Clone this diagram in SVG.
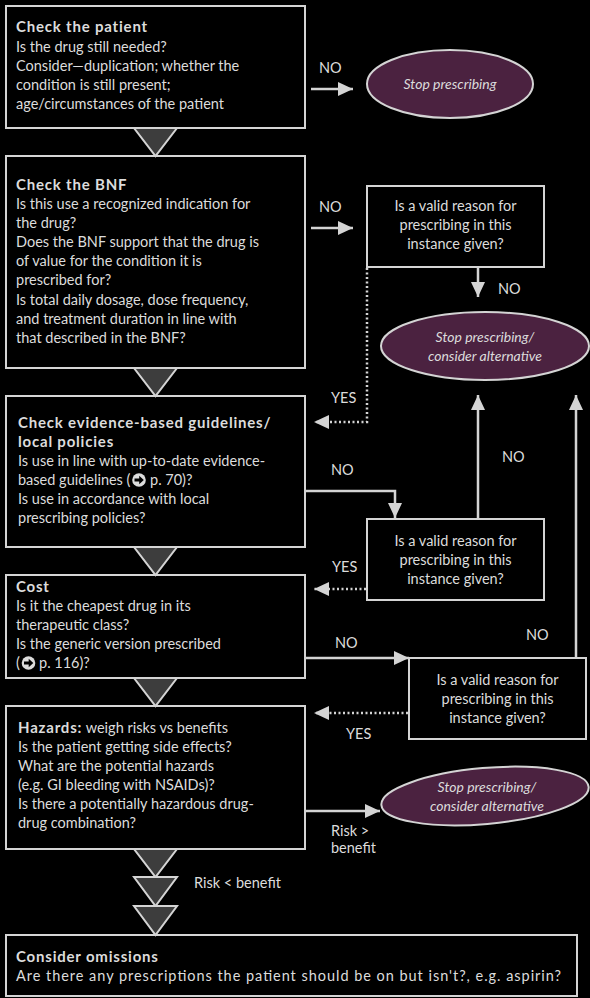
<svg xmlns="http://www.w3.org/2000/svg" width="590" height="998" viewBox="0 0 590 998">
<defs>
<style>
text{font-family:Lato,"Open Sans","DejaVu Sans",sans-serif;font-size:14.5px;fill:#dcdcdc}
.b{font-weight:bold;font-size:15px;letter-spacing:0.8px}
.c{text-anchor:middle}
.i{font-style:italic;font-size:14px;text-anchor:middle}
.box{fill:#000;stroke:#d4d4d4;stroke-width:2}
.tri{fill:#3d3d3d;stroke:#d4d4d4;stroke-width:2;stroke-linejoin:miter}
.ell{fill:#4b2240;stroke:#d4d4d4;stroke-width:2}
.ln{fill:none;stroke:#d4d4d4;stroke-width:2.5}
.dot{fill:none;stroke:#d4d4d4;stroke-width:2.5;stroke-dasharray:2 2.5}
.ico{fill:#dcdcdc}
.icoa{fill:#000}
</style>
<marker id="ah" markerUnits="userSpaceOnUse" markerWidth="16" markerHeight="14" refX="15" refY="7" orient="auto">
<path d="M0,0 L15,7 L0,14 z" fill="#d4d4d4"/>
</marker>
<g id="icon">
<circle class="ico" cx="0" cy="0" r="6.8"/>
<polygon class="icoa" points="-4.5,-1.6 0.2,-1.6 0.2,-4.3 4.8,0 0.2,4.3 0.2,1.6 -4.5,1.6"/>
</g>
</defs>
<rect width="590" height="998" fill="#000"/>

<g id="n1">
<rect class="box" x="6" y="6" width="299" height="122"/>
<text class="b" x="16" y="32">Check the patient</text>
<text x="16" y="52">Is the drug still needed?</text>
<text x="16" y="71">Consider—duplication; whether the</text>
<text x="16" y="90">condition is still present;</text>
<text x="16" y="109">age/circumstances of the patient</text>
</g>

<g id="n2">
<rect class="box" x="6" y="156" width="299" height="212"/>
<text class="b" x="16" y="190">Check the BNF</text>
<text x="16" y="209">Is this use a recognized indication for</text>
<text x="16" y="228">the drug?</text>
<text x="16" y="247">Does the BNF support that the drug is</text>
<text x="16" y="266">of value for the condition it is</text>
<text x="16" y="285">prescribed for?</text>
<text x="16" y="305">Is total daily dosage, dose frequency,</text>
<text x="16" y="324">and treatment duration in line with</text>
<text x="16" y="343">that described in the BNF?</text>
</g>

<g id="n3">
<rect class="box" x="6" y="396" width="299" height="151"/>
<text class="b" x="18" y="428">Check evidence-based guidelines/</text>
<text class="b" x="18" y="447">local policies</text>
<text x="18" y="466">Is use in line with up-to-date evidence-</text>
<text x="18" y="485">based guidelines (</text>
<use href="#icon" x="139" y="480"/>
<text x="150" y="485">p. 70)?</text>
<text x="18" y="504">Is use in accordance with local</text>
<text x="18" y="523">prescribing policies?</text>
</g>

<g id="n4">
<rect class="box" x="6" y="575" width="299" height="103"/>
<text class="b" x="16" y="592">Cost</text>
<text x="16" y="611">Is it the cheapest drug in its</text>
<text x="16" y="630">therapeutic class?</text>
<text x="16" y="649">Is the generic version prescribed</text>
<text x="16" y="668">(</text>
<use href="#icon" x="28.5" y="663"/>
<text x="39" y="668">p. 116)?</text>
</g>

<g id="n5">
<rect class="box" x="6" y="706" width="299" height="143"/>
<text x="18" y="733"><tspan class="b">Hazards:</tspan> weigh risks vs benefits</text>
<text x="18" y="752">Is the patient getting side effects?</text>
<text x="18" y="771">What are the potential hazards</text>
<text x="18" y="790">(e.g. GI bleeding with NSAIDs)?</text>
<text x="18" y="809">Is there a potentially hazardous drug-</text>
<text x="18" y="828">drug combination?</text>
</g>

<g id="n6">
<rect class="box" x="6" y="935" width="571" height="61"/>
<text class="b" x="16" y="962">Consider omissions</text>
<text x="16" y="981" textLength="545" lengthAdjust="spacing">Are there any prescriptions the patient should be on but isn't?, e.g. aspirin?</text>
</g>

<g id="t1"><polygon class="tri" points="134,128 177,128 155.5,156"/></g>
<g id="t2"><polygon class="tri" points="134,368 177,368 155.5,396"/></g>
<g id="t3"><polygon class="tri" points="134,547 177,547 155.5,575"/></g>
<g id="t4"><polygon class="tri" points="134,678 177,678 155.5,706"/></g>
<g id="t5"><polygon class="tri" points="134,849 177,849 155.5,877"/></g>
<g id="t6"><polygon class="tri" points="134,877 177,877 155.5,906"/></g>
<g id="t7"><polygon class="tri" points="134,906 177,906 155.5,935"/></g>

<g id="e1">
<ellipse class="ell" cx="450" cy="84" rx="83" ry="34"/>
<text class="i" x="450" y="89">Stop prescribing</text>
</g>

<g id="d1">
<rect class="box" x="367" y="186" width="177" height="81"/>
<text class="c" x="455.5" y="211">Is a valid reason for</text>
<text class="c" x="455.5" y="230">prescribing in this</text>
<text class="c" x="455.5" y="249">instance given?</text>
</g>

<g id="e2">
<ellipse class="ell" cx="485" cy="346" rx="104" ry="34"/>
<text class="i" x="485" y="342">Stop prescribing/</text>
<text class="i" x="485" y="361">consider alternative</text>
</g>

<g id="d2">
<rect class="box" x="367" y="519" width="177" height="81"/>
<text class="c" x="455.5" y="546">Is a valid reason for</text>
<text class="c" x="455.5" y="565">prescribing in this</text>
<text class="c" x="455.5" y="584">instance given?</text>
</g>

<g id="d3">
<rect class="box" x="409" y="658" width="177" height="81"/>
<text class="c" x="497.5" y="685">Is a valid reason for</text>
<text class="c" x="497.5" y="704">prescribing in this</text>
<text class="c" x="497.5" y="723">instance given?</text>
</g>

<g id="e3">
<ellipse class="ell" cx="485" cy="796" rx="104" ry="28" transform="rotate(-5 485 796)"/>
<text class="i" x="487" y="792">Stop prescribing/</text>
<text class="i" x="487" y="811">consider alternative</text>
</g>

<g id="connectors">
<line class="ln" x1="311" y1="89" x2="353" y2="89" marker-end="url(#ah)"/>
<line class="ln" x1="311" y1="228" x2="353" y2="228" marker-end="url(#ah)"/>
<line class="ln" x1="478" y1="267" x2="478" y2="297" marker-end="url(#ah)"/>
<polyline class="dot" points="367,268 367,422 314,422" marker-end="url(#ah)"/>
<line class="ln" x1="478" y1="518" x2="478" y2="395" marker-end="url(#ah)"/>
<polyline class="ln" points="305,491 395,491 395,518" marker-end="url(#ah)"/>
<line class="dot" x1="366" y1="589" x2="314" y2="589" marker-end="url(#ah)"/>
<line class="ln" x1="305" y1="658" x2="409" y2="658" marker-end="url(#ah)"/>
<line class="ln" x1="576" y1="658" x2="576" y2="395" marker-end="url(#ah)"/>
<line class="dot" x1="408" y1="713" x2="314" y2="713" marker-end="url(#ah)"/>
<line class="ln" x1="305" y1="811" x2="380" y2="811" marker-end="url(#ah)"/>
</g>

<g id="labels">
<text x="319" y="73">NO</text>
<text x="319" y="212">NO</text>
<text x="498" y="294">NO</text>
<text x="331" y="403">YES</text>
<text x="502" y="462">NO</text>
<text x="331" y="475">NO</text>
<text x="332" y="572">YES</text>
<text x="335" y="648">NO</text>
<text x="526" y="640">NO</text>
<text x="346" y="739">YES</text>
<text x="331" y="836">Risk &gt;</text>
<text x="331" y="853">benefit</text>
<text x="194" y="888">Risk &lt; benefit</text>
</g>
</svg>
